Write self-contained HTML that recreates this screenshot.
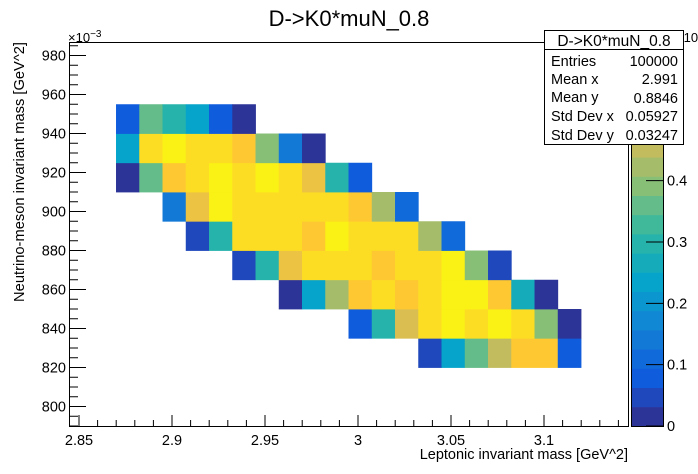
<!DOCTYPE html>
<html><head><meta charset="utf-8"><style>
html,body{margin:0;padding:0;background:#fff;}
svg{display:block;font-family:"Liberation Sans",Arial,sans-serif;}
</style></head><body>
<svg id="chart" width="698" height="474" viewBox="0 0 698 474" xmlns="http://www.w3.org/2000/svg">
<rect x="0" y="0" width="698" height="474" fill="#fff"/>
<g id="cells"></g>
<g id="axes"></g>
<g id="palette"></g>
<text x="349" y="26" font-size="22" text-anchor="middle">D-&gt;K0*muN_0.8</text>
<text x="628" y="459" font-size="14.5" text-anchor="end">Leptonic invariant mass [GeV^2]</text>
<text transform="translate(24,42) rotate(-90)" font-size="14.7" text-anchor="end">Neutrino-meson invariant mass [GeV^2]</text>
<text x="68" y="42" font-size="13">×10<tspan dy="-5" font-size="10">−3</tspan></text>
<text x="676" y="42" font-size="13">×10<tspan dy="-5" font-size="10">−3</tspan></text>
<g>
<rect x="544.5" y="30.5" width="139" height="114" fill="#fff" stroke="#000" stroke-width="1"/>
<line x1="544.5" y1="49.5" x2="683.5" y2="49.5" stroke="#000"/>
<text x="614" y="46" font-size="15.5" text-anchor="middle">D-&gt;K0*muN_0.8</text>
<text x="551" y="66" font-size="14.5">Entries</text><text x="678" y="66" font-size="14.5" text-anchor="end">100000</text>
<text x="551" y="84" font-size="14.5">Mean x</text><text x="678" y="84" font-size="14.5" text-anchor="end">2.991</text>
<text x="551" y="102" font-size="14.5">Mean y</text><text x="678" y="103" font-size="14.5" text-anchor="end">0.8846</text>
<text x="551" y="121" font-size="14.5">Std Dev x</text><text x="678" y="121" font-size="14.5" text-anchor="end">0.05927</text>
<text x="551" y="140" font-size="14.5">Std Dev y</text><text x="678" y="140" font-size="14.5" text-anchor="end">0.03247</text>
</g>
</svg>
<script>
// data
const xStart = 2.8699;
const xBinWidth = 0.0125;
const yStart = 0.82;
const yBinWidth = 0.015;
// rows listed from bottom (y=0.82) to top; each row: first column index and values
const rowStartCol = [13, 10, 7, 5, 3, 2, 0, 0, 0];
const rowValues = [
  [0.05,0.22,0.35,0.46,0.55,0.55,0.08],
  [0.08,0.30,0.48,0.59,0.62,0.59,0.62,0.57,0.40,0.02],
  [0.02,0.22,0.43,0.55,0.59,0.55,0.59,0.62,0.62,0.55,0.26,0.02],
  [0.05,0.30,0.51,0.59,0.59,0.59,0.55,0.59,0.59,0.62,0.40,0.05],
  [0.05,0.30,0.59,0.59,0.59,0.55,0.62,0.59,0.59,0.59,0.43,0.12],
  [0.15,0.51,0.62,0.59,0.59,0.59,0.59,0.59,0.55,0.43,0.12],
  [0.02,0.35,0.55,0.59,0.62,0.59,0.62,0.59,0.51,0.30,0.08],
  [0.22,0.59,0.62,0.59,0.59,0.55,0.40,0.15,0.02],
  [0.08,0.35,0.30,0.22,0.08,0.02]
];
const xTicks = [2.85, 2.9, 2.95, 3, 3.05, 3.1];
const xTickLabels = ["2.85","2.9","2.95","3","3.05","3.1"];
const yTicks = [0.80,0.82,0.84,0.86,0.88,0.90,0.92,0.94,0.96,0.98];
const yTickLabels = ["800","820","840","860","880","900","920","940","960","980"];
const zTicks = [0,0.1,0.2,0.3,0.4];
const zTickLabels = ["0","0.1","0.2","0.3","0.4"];
const zMax = 0.626;

const NS = "http://www.w3.org/2000/svg";
const L = 69, R = 628, T = 42, B = 426;
function xPx(v){ return 79 + (v - 2.85) * 1860; }
function yPx(v){ return 406.5 - (v - 0.80) * 1950; }
function zPx(v){ return B - v / zMax * (B - T); }
const st = [0,0.125,0.25,0.375,0.5,0.625,0.75,0.875,1];
const rr = [0.2082,0.0592,0.0780,0.0232,0.1802,0.5301,0.8186,0.9956,0.9764];
const gg = [0.1664,0.3599,0.5041,0.6419,0.7178,0.7492,0.7328,0.7862,0.9832];
const bb = [0.5293,0.8684,0.8385,0.7914,0.6425,0.4662,0.3499,0.1968,0.0539];
function bird(t){
  let i = Math.min(7, Math.floor(t*8)); const f = (t - st[i]) / 0.125;
  const c = a => Math.round(255*(a[i] + (a[i+1]-a[i])*f));
  return `rgb(${c(rr)},${c(gg)},${c(bb)})`;
}
const NB = 20;
function colorOf(v){ let b = Math.min(NB-1, Math.floor(v / zMax * NB)); return bird((b+0.5)/NB); }
function mk(tag, attrs, parent){ const e = document.createElementNS(NS, tag); for (const k in attrs) e.setAttribute(k, attrs[k]); parent.appendChild(e); return e; }

const cells = document.getElementById('cells');
rowValues.forEach((row, r) => {
  row.forEach((v, k) => {
    const c = rowStartCol[r] + k;
    const x0 = xPx(xStart + c*xBinWidth), x1 = xPx(xStart + (c+1)*xBinWidth);
    const y1 = yPx(yStart + r*yBinWidth), y0 = yPx(yStart + (r+1)*yBinWidth);
    const e = mk('rect', {x:x0, y:y0, width:x1-x0+0.4, height:y1-y0+0.4, fill:colorOf(v)}, cells);
    
    
  });
});

const ax = document.getElementById('axes');
mk('rect', {x:L+0.5, y:T+0.5, width:R-L, height:B-T, fill:'none', stroke:'#000', 'stroke-width':1}, ax);
for (let i = 0; i <= 30; i++) {
  const v = 2.85 + i*0.01; const px = xPx(v);
  if (px > R) break;
  const major = i % 5 === 0;
  mk('line', {x1:px, y1:B, x2:px, y2:B-(major?11:6), stroke:'#000'}, ax);
}
xTicks.forEach((v,i)=>{
  const t = mk('text', {x:xPx(v), y:B+19, 'font-size':14.5, 'text-anchor':'middle'}, ax);
  t.textContent = xTickLabels[i];
  
  
});
for (let i = -2; i <= 40; i++) {
  const v = 0.80 + i*0.005; const py = yPx(v);
  if (py < T || py > B) continue;
  const major = ((i % 4) + 4) % 4 === 0;
  mk('line', {x1:L, y1:py, x2:L+(major?17:9), y2:py, stroke:'#000'}, ax);
}
yTicks.forEach((v,i)=>{
  const t = mk('text', {x:L-3, y:yPx(v)+5, 'font-size':14.5, 'text-anchor':'end'}, ax);
  t.textContent = yTickLabels[i];
  
  
});
const pal = document.getElementById('palette');
for (let b = 0; b < NB; b++) {
  const y0 = zPx((b+1)/NB*zMax), y1 = zPx(b/NB*zMax);
  mk('rect', {x:631, y:y0, width:32, height:y1-y0+0.4, fill:bird((b+0.5)/NB)}, pal);
}
mk('rect', {x:631.5, y:T+0.5, width:32, height:B-T, fill:'none', stroke:'#000'}, pal);
zTicks.forEach((v,i)=>{
  mk('line', {x1:646, y1:zPx(v), x2:663, y2:zPx(v), stroke:'#000'}, pal);
  const t = mk('text', {x:667, y:zPx(v)+5, 'font-size':14.5}, pal);
  t.textContent = zTickLabels[i];
  
  
});
</script>
</body></html>
